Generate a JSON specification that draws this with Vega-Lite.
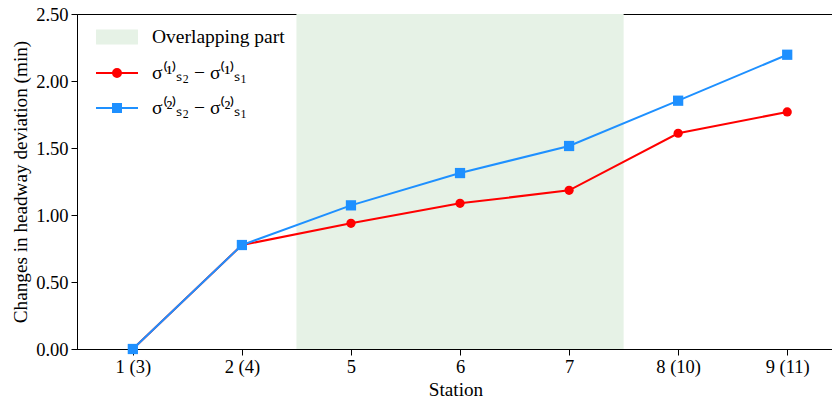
{
  "$schema": "https://vega.github.io/schema/vega-lite/v6.json",
  "width": 757,
  "height": 335,
  "autosize": {"type": "none"},
  "padding": {"left": 77, "top": 14, "right": 0, "bottom": 57},
  "config": {
    "font": "Liberation Serif",
    "view": {"stroke": "#000000", "strokeWidth": 1},
    "axis": {
      "labelFont": "Liberation Serif",
      "titleFont": "Liberation Serif",
      "labelFontSize": 18.5,
      "titleFontSize": 19.2,
      "titleFontWeight": "normal",
      "labelColor": "#000000",
      "titleColor": "#000000",
      "domainColor": "#000000",
      "tickColor": "#000000",
      "domainWidth": 1,
      "tickWidth": 1,
      "tickSize": 6,
      "grid": false
    },
    "legend": {
      "title": null,
      "orient": "none",
      "legendX": 18,
      "legendY": 1,
      "symbolSize": 1764,
      "symbolStrokeWidth": 2,
      "symbolOpacity": 1,
      "labelFont": "Liberation Serif",
      "labelFontSize": 19.5,
      "labelColor": "#000000",
      "labelOffset": 13,
      "rowPadding": 3
    }
  },
  "datasets": {
    "overlap": [
      {"series": "Overlapping part", "from": 2.5, "to": 5.5}
    ],
    "deviation": [
      {"order": 1, "station": "1 (3)", "series": "σ⁽¹⁾ₛ₂ − σ⁽¹⁾ₛ₁", "value": 0.0},
      {"order": 2, "station": "2 (4)", "series": "σ⁽¹⁾ₛ₂ − σ⁽¹⁾ₛ₁", "value": 0.776},
      {"order": 3, "station": "5", "series": "σ⁽¹⁾ₛ₂ − σ⁽¹⁾ₛ₁", "value": 0.938},
      {"order": 4, "station": "6", "series": "σ⁽¹⁾ₛ₂ − σ⁽¹⁾ₛ₁", "value": 1.087},
      {"order": 5, "station": "7", "series": "σ⁽¹⁾ₛ₂ − σ⁽¹⁾ₛ₁", "value": 1.184},
      {"order": 6, "station": "8 (10)", "series": "σ⁽¹⁾ₛ₂ − σ⁽¹⁾ₛ₁", "value": 1.61},
      {"order": 7, "station": "9 (11)", "series": "σ⁽¹⁾ₛ₂ − σ⁽¹⁾ₛ₁", "value": 1.769},
      {"order": 1, "station": "1 (3)", "series": "σ⁽²⁾ₛ₂ − σ⁽²⁾ₛ₁", "value": 0.0},
      {"order": 2, "station": "2 (4)", "series": "σ⁽²⁾ₛ₂ − σ⁽²⁾ₛ₁", "value": 0.776},
      {"order": 3, "station": "5", "series": "σ⁽²⁾ₛ₂ − σ⁽²⁾ₛ₁", "value": 1.072},
      {"order": 4, "station": "6", "series": "σ⁽²⁾ₛ₂ − σ⁽²⁾ₛ₁", "value": 1.313},
      {"order": 5, "station": "7", "series": "σ⁽²⁾ₛ₂ − σ⁽²⁾ₛ₁", "value": 1.515},
      {"order": 6, "station": "8 (10)", "series": "σ⁽²⁾ₛ₂ − σ⁽²⁾ₛ₁", "value": 1.853},
      {"order": 7, "station": "9 (11)", "series": "σ⁽²⁾ₛ₂ − σ⁽²⁾ₛ₁", "value": 2.196}
    ]
  },
  "layer": [
    {
      "data": {"name": "overlap"},
      "mark": {"type": "rect", "opacity": 1},
      "encoding": {
        "x": {
          "field": "from",
          "type": "quantitative",
          "scale": {"domain": [0.488, 7.429], "nice": false, "zero": false},
          "axis": {
            "values": [1, 2, 3, 4, 5, 6, 7],
            "labelExpr": "['1 (3)', '2 (4)', '5', '6', '7', '8 (10)', '9 (11)'][datum.value - 1]",
            "labelPadding": 2,
            "title": "Station",
            "titlePadding": 5
          }
        },
        "x2": {"field": "to"},
        "color": {
          "field": "series",
          "type": "nominal",
          "scale": {
            "domain": ["Overlapping part", "σ⁽¹⁾ₛ₂ − σ⁽¹⁾ₛ₁", "σ⁽²⁾ₛ₂ − σ⁽²⁾ₛ₁"],
            "range": ["#e6f2e6", "#ff0000", "#1e90ff"]
          }
        }
      }
    },
    {
      "data": {"name": "deviation"},
      "mark": {"type": "line", "strokeWidth": 2},
      "encoding": {
        "x": {"field": "order", "type": "quantitative"},
        "y": {
          "field": "value",
          "type": "quantitative",
          "scale": {"domain": [0, 2.5], "nice": false},
          "axis": {
            "values": [0, 0.5, 1, 1.5, 2, 2.5],
            "format": ".2f",
            "labelPadding": 3,
            "title": "Changes in headway deviation (min)",
            "titlePadding": 5
          }
        },
        "color": {"field": "series", "type": "nominal"}
      }
    },
    {
      "data": {"name": "deviation"},
      "transform": [{"filter": "datum.series === 'σ⁽¹⁾ₛ₂ − σ⁽¹⁾ₛ₁'"}],
      "mark": {"type": "point", "shape": "circle", "size": 85, "filled": true, "opacity": 1},
      "encoding": {
        "x": {"field": "order", "type": "quantitative"},
        "y": {"field": "value", "type": "quantitative"},
        "color": {"field": "series", "type": "nominal"}
      }
    },
    {
      "data": {"name": "deviation"},
      "transform": [{"filter": "datum.series === 'σ⁽²⁾ₛ₂ − σ⁽²⁾ₛ₁'"}],
      "mark": {"type": "point", "shape": "square", "size": 105, "filled": true, "opacity": 1},
      "encoding": {
        "x": {"field": "order", "type": "quantitative"},
        "y": {"field": "value", "type": "quantitative"},
        "color": {"field": "series", "type": "nominal"}
      }
    },
    {
      "description": "Legend key glyphs: patch for the shaded span, line-with-marker for each series; no marks are drawn in the plot.",
      "data": {"name": "deviation"},
      "transform": [{"filter": "false"}],
      "mark": {"type": "point", "filled": true, "opacity": 1},
      "encoding": {
        "x": {"field": "order", "type": "quantitative"},
        "y": {"field": "value", "type": "quantitative"},
        "color": {"field": "series", "type": "nominal"},
        "shape": {
          "field": "series",
          "type": "nominal",
          "scale": {
            "domain": ["Overlapping part", "σ⁽¹⁾ₛ₂ − σ⁽¹⁾ₛ₁", "σ⁽²⁾ₛ₂ − σ⁽²⁾ₛ₁"],
            "range": [
              "M-0.952,-0.31H0.952V0.31H-0.952Z",
              "M-1,0H1M0.19,0A0.19,0.19 0 1,1 -0.19,0A0.19,0.19 0 1,1 0.19,0Z",
              "M-1,0H1M-0.19,-0.19H0.19V0.19H-0.19Z"
            ]
          }
        }
      }
    }
  ]
}
